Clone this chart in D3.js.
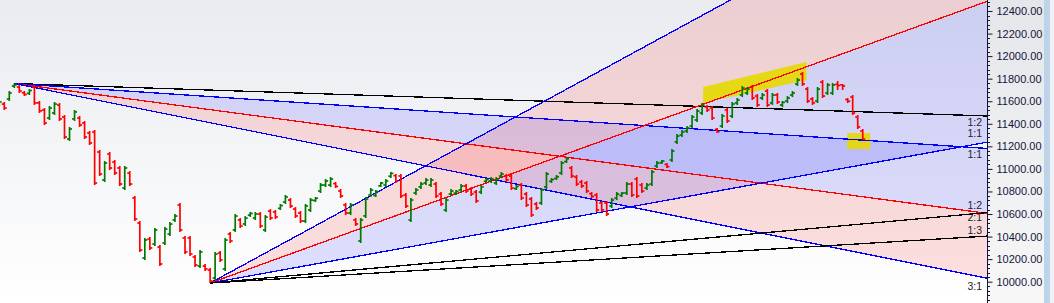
<!DOCTYPE html>
<html>
<head>
<meta charset="utf-8">
<script src="https://cdn.jsdelivr.net/npm/d3@7"></script>
<style>
  body { margin: 0; overflow: hidden; background: #fff; }
  svg { display: block; }
</style>
</head>
<body>
<div id="chart"></div>
<script>
// OHLC bars, first bar index is -1 (partly off the left edge)
var firstBar = -1;
var opens = [11576,11575,11620,11735,11726,11675,11670,11726,11585,11522,11451,11496,11566,11460,11265,11443,11451,11407,11318,11327,11150,10902,11132,11061,11008,10831,10963,10742,10520,10210,10378,10334,10307,10343,10423,10547,10680,10387,10387,10219,10139,10139,10103,10033,10254,10113,10423,10459,10547,10512,10590,10565,10600,10459,10626,10618,10650,10707,10724,10644,10609,10538,10636,10720,10804,10857,10857,10870,10804,10680,10609,10547,10361,10583,10769,10765,10850,10857,10935,10940,10937,10768,10547,10787,10840,10875,10857,10866,10777,10636,10778,10785,10813,10848,10822,10795,10795,10890,10893,10875,10937,10937,10937,10825,10857,10777,10733,10689,10698,10840,10890,10915,10964,11065,11008,10928,10884,10875,10780,10768,10698,10698,10671,10742,10765,10787,10866,10910,10857,10831,10866,11026,11055,11040,11079,11239,11300,11336,11380,11434,11496,11549,11540,11350,11380,11522,11469,11585,11655,11673,11726,11646,11629,11690,11585,11655,11567,11602,11655,11753,11841,11708,11620,11602,11770,11673,11673,11750,11745,11615,11637,11460,11336];
var highs = [11611,11593,11691,11757,11744,11691,11708,11744,11602,11540,11558,11593,11584,11478,11372,11522,11469,11425,11336,11345,11168,11070,11150,11079,11026,11026,10981,10760,10538,10387,10396,10476,10325,10485,10529,10600,10698,10405,10405,10237,10281,10157,10121,10263,10272,10387,10441,10600,10565,10582,10618,10618,10618,10591,10644,10636,10689,10769,10742,10662,10627,10689,10742,10751,10875,10910,10928,10884,10822,10698,10698,10565,10565,10751,10831,10813,10884,10910,10973,10955,10955,10786,10742,10831,10884,10919,10919,10884,10795,10742,10822,10813,10866,10866,10839,10813,10857,10919,10928,10928,10973,10955,10955,10857,10875,10795,10751,10707,10831,10973,10919,10946,11070,11106,11026,10946,10902,10893,10795,10786,10715,10715,10742,10795,10795,10884,10884,10928,10875,10875,10990,11070,11079,11052,11176,11309,11345,11380,11478,11531,11584,11567,11558,11363,11487,11540,11593,11629,11735,11726,11744,11664,11673,11708,11673,11673,11602,11646,11691,11806,11859,11726,11637,11726,11788,11762,11762,11779,11753,11629,11655,11478,11354];
var lows = [11558,11522,11602,11717,11673,11646,11655,11567,11496,11389,11434,11478,11425,11265,11247,11425,11372,11265,11212,10857,10937,10884,10990,10946,10848,10813,10848,10538,10263,10192,10281,10316,10139,10325,10405,10529,10441,10246,10228,10130,10121,10095,9988,10015,10175,10095,10343,10441,10476,10494,10574,10547,10476,10441,10547,10556,10636,10689,10653,10565,10520,10520,10618,10707,10786,10839,10839,10831,10742,10591,10591,10494,10343,10565,10751,10751,10839,10839,10919,10875,10742,10653,10529,10769,10822,10857,10839,10742,10671,10618,10760,10769,10795,10786,10760,10698,10777,10875,10875,10857,10919,10884,10813,10813,10724,10662,10574,10636,10680,10822,10875,10902,10946,11052,10919,10848,10831,10786,10742,10618,10618,10582,10653,10724,10751,10769,10751,10742,10786,10813,10848,11008,11043,11008,11061,11221,11283,11318,11363,11416,11478,11505,11434,11318,11363,11407,11451,11567,11637,11655,11611,11549,11611,11549,11567,11575,11549,11584,11637,11735,11735,11584,11567,11584,11629,11655,11655,11700,11700,11584,11478,11354,11256];
var closes = [11593,11540,11673,11745,11691,11660,11695,11585,11514,11407,11540,11575,11443,11283,11354,11505,11389,11283,11230,10875,10955,11052,11008,10964,10866,11008,10866,10556,10281,10370,10299,10458,10157,10467,10511,10582,10459,10264,10246,10148,10263,10113,10006,10245,10193,10369,10361,10582,10494,10564,10605,10600,10494,10573,10565,10574,10675,10751,10671,10583,10538,10671,10724,10740,10857,10893,10910,10845,10760,10609,10680,10512,10547,10733,10813,10800,10875,10893,10960,10893,10760,10671,10724,10813,10866,10901,10901,10760,10689,10724,10804,10800,10848,10804,10778,10716,10840,10905,10910,10910,10955,10902,10831,10845,10742,10680,10592,10654,10813,10955,10905,10930,11052,11090,10937,10866,10849,10804,10755,10636,10636,10600,10724,10777,10785,10866,10769,10760,10804,10857,10973,11052,11070,11020,11158,11291,11327,11363,11460,11513,11566,11522,11451,11330,11469,11425,11575,11611,11717,11708,11629,11567,11655,11567,11655,11593,11590,11629,11673,11788,11753,11602,11585,11708,11646,11744,11744,11740,11735,11600,11496,11372,11265];

// price axis
var priceTicks = [10000,10200,10400,10600,10800,11000,11200,11400,11600,11800,12000,12200,12400];

// Gann fans: origin bar, origin price, price per bar of the 1:1 line, ratios
var topFanOrigin = [2, 11757];
var topFanUnit = 2.97;
var topFanRatios = [0.5, 1, 2, 3];
var topFanLabels = ["1:2", "1:1", "2:1", "3:1"];

var lowFanOrigin = [41, 9988];
var lowFanUnit = 8.07;
var lowFanRatios = [3, 2, 1, 0.5, 1/3];
var lowFanLabels = ["3:1", "2:1", "1:1", "1:2", "1:3"];

// yellow marks [bar, price]
var markTrend = [[139.2, 11726], [159.8, 11948], [159.8, 11788], [139.2, 11584]];
var markBox = [[167.9, 11318], [172.5, 11176]];

var W = 1054, H = 303;
var plotRight = 987, plotBottom = 303;

var svg = d3.select("#chart").append("svg")
    .attr("width", W).attr("height", H)
    .style("font-family", "'Liberation Sans', Arial, sans-serif");

var defs = svg.append("defs");
var g1 = defs.append("linearGradient").attr("id", "plotBg").attr("x1", 0).attr("y1", 0).attr("x2", 0).attr("y2", 1);
g1.append("stop").attr("offset", "0%").attr("stop-color", "#e9ebef");
g1.append("stop").attr("offset", "100%").attr("stop-color", "#ffffff");
var g2 = defs.append("linearGradient").attr("id", "axisBg").attr("x1", 0).attr("y1", 0).attr("x2", 0).attr("y2", 1);
g2.append("stop").attr("offset", "0%").attr("stop-color", "#e4e6ea");
g2.append("stop").attr("offset", "100%").attr("stop-color", "#f7f7f7");
defs.append("clipPath").attr("id", "plotClip")
  .append("rect").attr("x", 0).attr("y", 0).attr("width", plotRight).attr("height", plotBottom);

// backgrounds
svg.append("rect").attr("x", 0).attr("y", 0).attr("width", plotRight).attr("height", plotBottom).attr("fill", "url(#plotBg)");
svg.append("rect").attr("x", plotRight).attr("y", 0).attr("width", 57).attr("height", H).attr("fill", "url(#axisBg)");
svg.append("rect").attr("x", 1044).attr("y", 0).attr("width", 6).attr("height", H).attr("fill", "#bcd3ea");
svg.append("rect").attr("x", 1050).attr("y", 0).attr("width", 4).attr("height", H).attr("fill", "#eef2f6");

// scales
var x = d3.scaleLinear().domain([-0.85, 195.75]).range([0, plotRight]);
var y = d3.scaleLinear().domain([10000, 12400]).range([281.7, 11]);
var lastBar = x.invert(plotRight);

var plot = svg.append("g").attr("clip-path", "url(#plotClip)");

function fanLine(origin, unit, ratio, dir) {
  var p1 = origin[1] + dir * unit * ratio * (lastBar - origin[0]);
  return [[origin[0], origin[1]], [lastBar, p1]];
}

var topLines = topFanRatios.map(function(r) { return fanLine(topFanOrigin, topFanUnit, r, -1); });
var lowLines = lowFanRatios.map(function(r) { return fanLine(lowFanOrigin, lowFanUnit, r, 1); });

var redFill = "rgba(255,0,0,0.12)", blueFill = "rgba(0,0,255,0.12)";
// fills between consecutive fan lines: [line a, line b, colour]
var fills = [
  [topLines[1], topLines[2], blueFill],
  [topLines[2], topLines[3], redFill],
  [lowLines[0], lowLines[1], redFill],
  [lowLines[1], lowLines[2], blueFill]
];
plot.selectAll("path.fill")
  .data(fills)
  .enter()
  .append("path")
  .attr("class", "fill")
  .attr("d", function(d) {
    var pts = [d[0][0], d[0][1], d[1][1]];
    return "M" + pts.map(function(p) { return x(p[0]) + "," + y(p[1]); }).join("L") + "Z";
  })
  .attr("fill", function(d) { return d[2]; });

// yellow highlights
plot.append("path")
  .attr("d", "M" + markTrend.map(function(p) { return x(p[0]) + "," + y(p[1]); }).join("L") + "Z")
  .attr("fill", "#e6d800").attr("opacity", 0.9);
plot.append("rect")
  .attr("x", x(markBox[0][0])).attr("y", y(markBox[0][1]))
  .attr("width", x(markBox[1][0]) - x(markBox[0][0]))
  .attr("height", y(markBox[1][1]) - y(markBox[0][1]))
  .attr("fill", "#e6d800").attr("opacity", 0.9);

// fan lines
var topColors = ["#000000", "#0000ff", "#ff0000", "#0000ff"];
var lowColors = ["#0000ff", "#ff0000", "#0000ff", "#000000", "#000000"];
function drawLines(lines, colors) {
  plot.selectAll(null)
    .data(lines)
    .enter()
    .append("line")
    .attr("x1", function(d) { return x(d[0][0]); })
    .attr("y1", function(d) { return y(d[0][1]); })
    .attr("x2", function(d) { return x(d[1][0]); })
    .attr("y2", function(d) { return y(d[1][1]); })
    .attr("stroke", function(d, i) { return colors[i]; })
    .attr("stroke-width", 1.3)
    .attr("shape-rendering", "crispEdges");
}
drawLines(topLines, topColors);
drawLines(lowLines, lowColors);

// OHLC bars
var bars = opens.map(function(o, i) {
  return {i: firstBar + i, o: o, h: highs[i], l: lows[i], c: closes[i]};
});
var barG = plot.selectAll("g.bar")
  .data(bars)
  .enter()
  .append("g")
  .attr("class", "bar")
  .attr("stroke", function(d) { return d.c >= d.o ? "#007a00" : "#ff0000"; })
  .attr("stroke-width", 1.7);
barG.append("line")
  .attr("x1", function(d) { return x(d.i); }).attr("x2", function(d) { return x(d.i); })
  .attr("y1", function(d) { return y(d.h); }).attr("y2", function(d) { return y(d.l); });
barG.append("line")
  .attr("x1", function(d) { return x(d.i) - 2.5; }).attr("x2", function(d) { return x(d.i); })
  .attr("y1", function(d) { return y(d.o); }).attr("y2", function(d) { return y(d.o); });
barG.append("line")
  .attr("x1", function(d) { return x(d.i); }).attr("x2", function(d) { return x(d.i) + 2.5; })
  .attr("y1", function(d) { return y(d.c); }).attr("y2", function(d) { return y(d.c); });

// fan labels, just under (top fan) or above (low fan) where each line meets the axis
var topLabelShift = [6, 6, 4, 8];
var lowLabelShift = [0, 0, -9, -8, -6];
var labelG = svg.append("g")
  .attr("font-size", "10.5px")
  .attr("fill", "#1e1e2a")
  .attr("text-anchor", "end");
topLines.forEach(function(l, i) {
  labelG.append("text").attr("x", 982).attr("y", y(l[1][1]) + topLabelShift[i])
    .attr("dominant-baseline", "central").text(topFanLabels[i]);
});
lowLines.forEach(function(l, i) {
  if (y(l[1][1]) < 20) return;
  labelG.append("text").attr("x", 982).attr("y", y(l[1][1]) + lowLabelShift[i])
    .attr("dominant-baseline", "central").text(lowFanLabels[i]);
});

// right price axis
var axis = d3.axisRight(y)
  .tickValues(priceTicks)
  .tickSize(5)
  .tickPadding(4)
  .tickFormat(d3.format(".2f"));
var axG = svg.append("g")
  .attr("transform", "translate(" + (plotRight + 0.5) + ",0)")
  .call(axis);
axG.select(".domain").attr("d", "M0,0V" + H).attr("stroke", "#14143c");
axG.selectAll(".tick line").attr("stroke", "#14143c");
axG.selectAll(".tick text").attr("font-size", "11px").attr("fill", "#14143c")
  .attr("font-family", "'Liberation Sans', Arial, sans-serif");
var minor = d3.range(9800, 12600, 40).filter(function(v) { return v % 200 !== 0; });
axG.selectAll("line.minor")
  .data(minor)
  .enter()
  .append("line")
  .attr("class", "minor")
  .attr("x1", 0).attr("x2", 2.5)
  .attr("y1", function(d) { return Math.round(y(d)) + 0.5; })
  .attr("y2", function(d) { return Math.round(y(d)) + 0.5; })
  .attr("stroke", "#14143c");
</script>
</body>
</html>
